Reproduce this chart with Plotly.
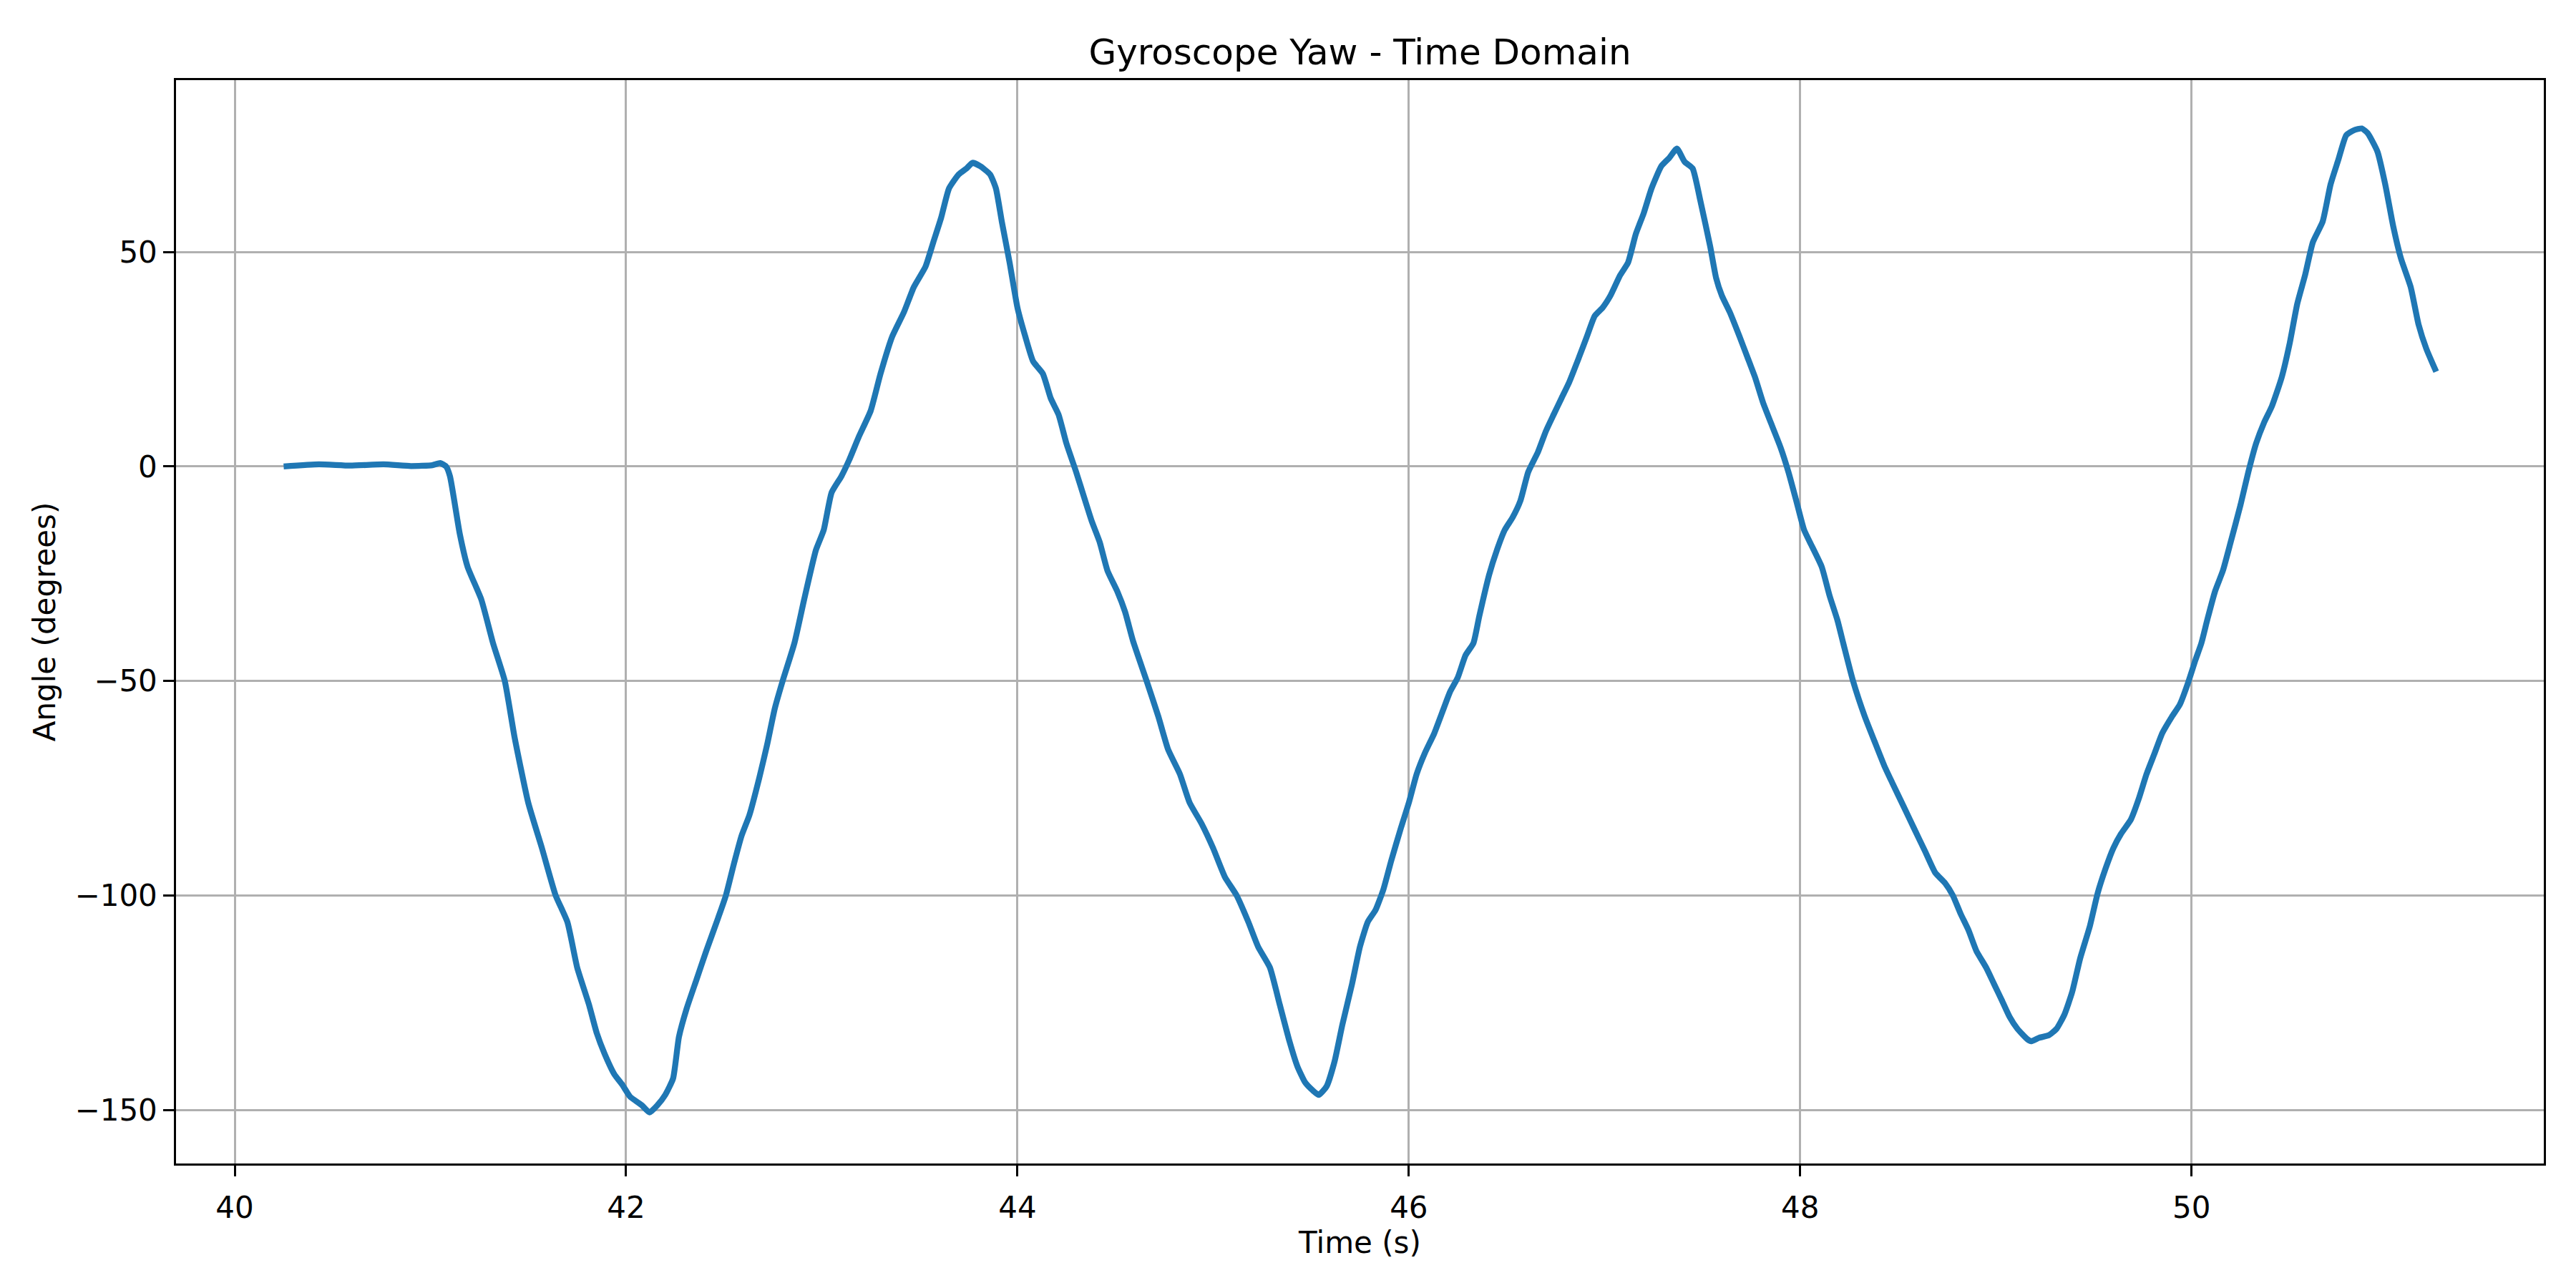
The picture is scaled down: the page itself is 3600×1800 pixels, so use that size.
import plotly.graph_objects as go

# Gyroscope yaw trace (time in s, angle in degrees)
time_s = [
    40.25, 40.43, 40.59, 40.76, 40.90, 41.01, 41.05, 41.08, 41.10, 41.15,
    41.19, 41.26, 41.32, 41.38, 41.43, 41.50, 41.57, 41.64, 41.70, 41.75,
    41.81, 41.85, 41.89, 41.94, 41.98, 42.02, 42.08, 42.12, 42.16, 42.20,
    42.24, 42.27, 42.31, 42.36, 42.41, 42.47, 42.51, 42.55, 42.59, 42.63,
    42.68, 42.72, 42.76, 42.80, 42.86, 42.91, 42.97, 43.01, 43.05, 43.10,
    43.14, 43.19, 43.25, 43.30, 43.36, 43.42, 43.47, 43.53, 43.57, 43.61,
    43.65, 43.70, 43.74, 43.77, 43.81, 43.86, 43.89, 43.92, 43.96, 44.00,
    44.04, 44.08, 44.13, 44.17, 44.21, 44.25, 44.30, 44.34, 44.38, 44.42,
    44.46, 44.51, 44.55, 44.59, 44.66, 44.72, 44.77, 44.83, 44.88, 44.94,
    45.00, 45.06, 45.12, 45.18, 45.23, 45.29, 45.34, 45.39, 45.43, 45.47,
    45.51, 45.54, 45.58, 45.62, 45.66, 45.71, 45.75, 45.79, 45.83, 45.87,
    45.91, 45.96, 46.00, 46.04, 46.08, 46.13, 46.17, 46.21, 46.25, 46.29,
    46.33, 46.36, 46.41, 46.45, 46.49, 46.53, 46.57, 46.61, 46.66, 46.70,
    46.74, 46.78, 46.82, 46.87, 46.91, 46.95, 46.99, 47.03, 47.08, 47.12,
    47.16, 47.20, 47.24, 47.29, 47.33, 47.37, 47.41, 47.45, 47.49, 47.54,
    47.57, 47.60, 47.64, 47.69, 47.73, 47.77, 47.81, 47.85, 47.90, 47.94,
    47.98, 48.02, 48.06, 48.11, 48.15, 48.19, 48.22, 48.27, 48.33, 48.38,
    48.43, 48.47, 48.53, 48.58, 48.64, 48.69, 48.74, 48.78, 48.82, 48.86,
    48.90, 48.95, 48.99, 49.03, 49.07, 49.11, 49.16, 49.18, 49.22, 49.27,
    49.31, 49.35, 49.39, 49.43, 49.48, 49.52, 49.56, 49.60, 49.64, 49.69,
    49.73, 49.77, 49.81, 49.85, 49.90, 49.94, 49.98, 50.02, 50.05, 50.08,
    50.12, 50.16, 50.20, 50.25, 50.29, 50.33, 50.37, 50.41, 50.46, 50.50,
    50.54, 50.58, 50.62, 50.67, 50.71, 50.75, 50.79, 50.83, 50.87, 50.90,
    50.95, 50.99, 51.03, 51.07, 51.12, 51.16, 51.20, 51.25,
]
yaw_deg = [
    0.0, 0.5, 0.2, 0.5, 0.1, 0.3, 0.8, 0.0, -2.3, -15.7,
    -23.4, -31.0, -41.2, -50.0, -63.1, -78.4, -89.0, -100.0, -106.2, -116.8,
    -125.4, -132.1, -136.9, -141.7, -144.1, -146.9, -148.9, -150.6, -148.9, -146.5,
    -142.7, -133.0, -126.3, -119.6, -112.9, -105.3, -100.0, -92.8, -86.1, -81.3,
    -72.7, -65.0, -56.4, -50.0, -41.2, -31.0, -19.5, -14.8, -6.1, -2.3,
    1.5, 7.0, 13.0, 21.6, 30.3, 36.0, 41.8, 46.6, 52.3, 58.0,
    64.8, 68.1, 69.5, 70.8, 70.0, 68.1, 64.8, 57.1, 47.5, 37.0,
    30.3, 24.5, 21.6, 15.9, 12.1, 5.4, -1.3, -7.1, -12.8, -17.6,
    -24.3, -29.1, -33.9, -40.6, -50.0, -58.3, -66.0, -71.7, -78.4, -83.2,
    -89.0, -95.7, -100.0, -106.2, -112.0, -116.8, -125.4, -134.0, -139.8, -143.6,
    -145.5, -146.5, -144.5, -138.8, -130.2, -120.6, -112.0, -106.2, -103.4, -98.6,
    -91.9, -84.2, -78.4, -71.7, -67.0, -62.2, -57.4, -52.6, -49.2, -44.0,
    -41.2, -34.9, -25.3, -19.5, -14.8, -11.9, -8.0, -1.3, 3.4, 8.2,
    12.1, 15.9, 19.7, 25.5, 30.3, 35.1, 37.0, 39.8, 44.6, 47.5,
    54.2, 59.0, 64.8, 70.0, 71.9, 74.1, 71.0, 69.5, 61.9, 51.3,
    44.0, 39.8, 36.0, 30.3, 25.5, 20.7, 14.9, 10.2, 4.4, -1.3,
    -8.0, -14.8, -18.6, -23.4, -30.1, -35.8, -41.2, -50.0, -58.3, -64.1,
    -69.8, -73.7, -79.4, -84.2, -89.9, -94.7, -97.1, -100.0, -104.3, -108.1,
    -112.9, -116.8, -120.6, -124.4, -128.3, -131.1, -133.5, -134.0, -133.2, -132.6,
    -131.1, -127.8, -122.5, -114.8, -107.2, -99.5, -93.8, -89.0, -85.6, -82.3,
    -77.5, -71.7, -67.0, -62.2, -58.3, -55.5, -50.7, -45.1, -41.2, -35.8,
    -29.1, -24.3, -17.6, -9.0, -1.3, 5.4, 10.2, 14.0, 20.7, 28.4,
    37.9, 44.6, 52.3, 57.1, 65.7, 71.5, 77.2, 78.4, 78.8, 77.7,
    73.4, 65.7, 56.1, 48.5, 41.8, 33.1, 27.4, 22.1,
]

x_ticks = [40, 42, 44, 46, 48, 50]
y_ticks = [-150, -100, -50, 0, 50]

trace = go.Scatter(x=time_s, y=yaw_deg, mode='lines',
                   line=dict(color='#1f77b4', width=8.3, shape='spline', smoothing=0.5),
                   showlegend=False)

axis_style = dict(showline=True, linecolor='black', linewidth=3.3, mirror=True,
                  showgrid=True, gridcolor='#b0b0b0', gridwidth=3.3,
                  zeroline=False, ticks='outside', ticklen=14.6, tickwidth=3.3,
                  tickcolor='black', tickfont=dict(size=42, color='black'))

layout = go.Layout(
    width=3600, height=1800,
    paper_bgcolor='white', plot_bgcolor='white',
    font=dict(family='DejaVu Sans', color='black'),
    margin=dict(l=246, r=45, t=112, b=174),
    title=dict(text='Gyroscope Yaw - Time Domain', x=0.5, xanchor='center',
               xref='paper', y=1 - 72 / 1800, yanchor='middle', yref='container',
               font=dict(size=50, color='black')),
    xaxis=dict(axis_style, range=[39.70, 51.80], tickvals=x_ticks, ticklabelstandoff=8,
               title=dict(text='Time (s)', font=dict(size=42), standoff=7)),
    yaxis=dict(axis_style, range=[-162.5, 90.07], tickvals=y_ticks,
               title=dict(text='Angle (degrees)', font=dict(size=42), standoff=14)),
)

fig = go.Figure(data=[trace], layout=layout)
# drop the default 8px body margin so the figure sits at the page corner
fig.write_html("out.html", config={'displayModeBar': False},
               post_script="document.body.style.margin='0';")
